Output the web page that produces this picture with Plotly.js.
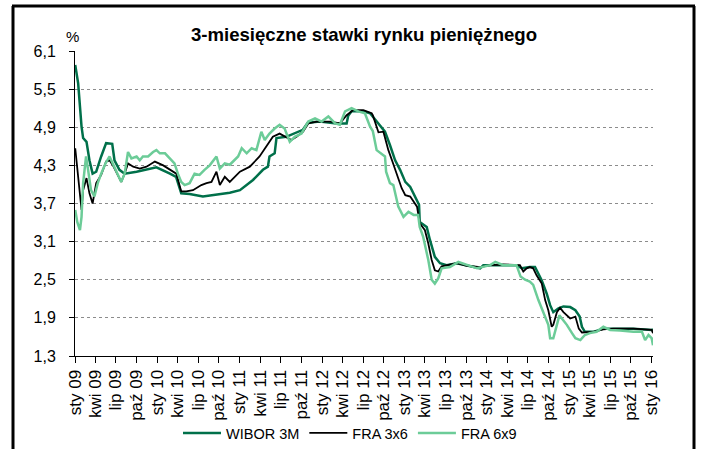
<!DOCTYPE html>
<html>
<head>
<meta charset="utf-8">
<script src="https://cdn.plot.ly/plotly-3.0.1.min.js"></script>
<style>
html,body{margin:0;padding:0;background:#fff;}
#chart{width:702px;height:449px;}
</style>
</head>
<body>
<div id="chart"></div>
<script>
// ---- DATA ----
const tickDates = ['2009-01-01','2009-04-01','2009-07-01','2009-10-01','2010-01-01','2010-04-01','2010-07-01','2010-10-01',
  '2011-01-01','2011-04-01','2011-07-01','2011-10-01','2012-01-01','2012-04-01','2012-07-01','2012-10-01',
  '2013-01-01','2013-04-01','2013-07-01','2013-10-01','2014-01-01','2014-04-01','2014-07-01','2014-10-01',
  '2015-01-01','2015-04-01','2015-07-01','2015-10-01','2016-01-01'];
const tickLabels = ['sty 09','kwi 09','lip 09','paź 09','sty 10','kwi 10','lip 10','paź 10',
  'sty 11','kwi 11','lip 11','paź 11','sty 12','kwi 12','lip 12','paź 12',
  'sty 13','kwi 13','lip 13','paź 13','sty 14','kwi 14','lip 14','paź 14',
  'sty 15','kwi 15','lip 15','paź 15','sty 16'];
const yTicks = [1.3, 1.9, 2.5, 3.1, 3.7, 4.3, 4.9, 5.5, 6.1];

const wiborDates = ['2009-01-02','2009-01-15','2009-01-30','2009-02-06','2009-02-21','2009-03-06','2009-03-20','2009-04-05',
  '2009-04-27','2009-05-19','2009-06-15','2009-06-25','2009-07-17','2009-08-09','2009-10-01','2009-11-14','2009-12-28',
  '2010-02-26','2010-03-25','2010-04-17','2010-05-24','2010-07-22','2010-09-20','2010-11-18','2011-01-02','2011-03-01',
  '2011-04-14','2011-05-06','2011-05-13','2011-06-05','2011-06-13','2011-07-26','2011-10-08','2011-10-30','2011-12-22',
  '2012-03-05','2012-04-19','2012-04-26','2012-05-11','2012-07-02','2012-08-01','2012-08-30','2012-10-06','2012-10-28',
  '2012-11-20','2012-12-12','2013-01-04','2013-01-26','2013-02-17','2013-03-06','2013-03-09','2013-04-09','2013-04-23',
  '2013-05-15','2013-06-07','2013-07-06','2013-08-20','2013-10-04','2013-12-02','2013-12-16','2014-03-14','2014-05-12',
  '2014-06-04','2014-07-10','2014-08-02','2014-09-01','2014-09-23','2014-10-08','2014-10-22','2014-11-14','2014-12-06',
  '2015-01-05','2015-01-28','2015-02-16','2015-02-26','2015-03-11','2015-04-17','2015-06-01','2015-07-15','2015-10-12',
  '2016-01-01','2016-01-07'];
const wiborValues = [5.88,5.59,4.91,4.73,4.67,4.38,4.17,4.20,
  4.44,4.65,4.64,4.38,4.23,4.17,4.20,4.23,4.27,
  4.17,4.12,3.86,3.85,3.81,3.84,3.87,3.91,4.07,
  4.23,4.28,4.44,4.49,4.73,4.75,4.86,4.97,4.99,
  4.96,4.96,5.08,5.15,5.15,5.12,4.99,4.83,4.62,
  4.38,4.23,4.04,3.96,3.81,3.68,3.41,3.33,3.13,
  2.86,2.76,2.73,2.76,2.73,2.68,2.73,2.73,2.73,
  2.68,2.70,2.70,2.49,2.28,2.10,1.99,2.05,2.08,
  2.07,2.02,1.92,1.76,1.68,1.68,1.73,1.73,1.73,
  1.71,1.72];

const fra36Dates = ['2009-01-02','2009-01-15','2009-01-30','2009-02-06','2009-02-21','2009-03-06','2009-03-20','2009-04-05',
  '2009-04-27','2009-05-19','2009-06-03','2009-06-18','2009-07-10','2009-07-25','2009-08-09','2009-08-24','2009-09-16',
  '2009-10-15','2009-11-14','2009-12-21','2010-01-27','2010-03-11','2010-03-26','2010-04-17','2010-05-09','2010-06-08',
  '2010-07-15','2010-08-07','2010-08-29','2010-09-20','2010-10-05','2010-10-27','2010-11-18','2011-01-02','2011-02-15',
  '2011-03-30','2011-04-29','2011-05-28','2011-06-27','2011-07-26','2011-08-18','2011-09-10','2011-10-09','2011-11-01',
  '2011-12-08','2012-02-06','2012-03-20','2012-04-19','2012-05-18','2012-07-02','2012-08-08','2012-08-13','2012-09-07',
  '2012-09-29','2012-10-21','2012-11-06','2012-11-28','2012-12-19','2013-01-04','2013-01-26','2013-02-25','2013-03-09',
  '2013-04-01','2013-04-16','2013-05-01','2013-05-15','2013-05-30','2013-06-14','2013-08-20','2013-10-04','2013-12-02',
  '2014-01-15','2014-03-14','2014-05-12','2014-05-27','2014-06-11','2014-06-26','2014-07-10','2014-07-25','2014-08-09',
  '2014-09-01','2014-09-16','2014-09-30','2014-10-15','2014-10-22','2014-11-07','2014-11-21','2014-12-06','2014-12-21',
  '2015-01-05','2015-01-28','2015-02-12','2015-02-26','2015-04-17','2015-06-01','2015-07-15','2015-10-12','2015-12-03',
  '2016-01-01','2016-01-07'];
const fra36Values = [4.57,4.12,3.60,3.91,4.10,3.86,3.70,4.02,
  4.15,4.36,4.38,4.30,4.15,4.04,4.17,4.33,4.28,
  4.25,4.28,4.36,4.30,4.20,4.17,3.89,3.89,3.91,
  3.99,4.02,4.04,4.20,3.99,4.12,4.04,4.20,4.28,
  4.44,4.59,4.75,4.80,4.75,4.70,4.75,4.83,4.96,
  4.99,4.99,4.96,5.09,5.17,5.17,5.12,5.09,4.82,
  4.83,4.54,4.38,4.17,3.94,3.83,3.81,3.65,3.39,
  3.28,3.07,2.81,2.65,2.63,2.71,2.76,2.72,2.70,
  2.73,2.74,2.73,2.73,2.63,2.68,2.70,2.68,2.57,
  2.44,2.18,2.02,1.76,1.79,1.99,2.06,1.99,1.94,
  1.89,1.92,1.73,1.67,1.68,1.72,1.73,1.73,1.72,
  1.71,1.66];

const fra69Dates = ['2009-01-02','2009-01-11','2009-01-23','2009-01-30','2009-02-06','2009-02-19','2009-02-28','2009-03-13',
  '2009-03-28','2009-04-12','2009-04-27','2009-05-16','2009-06-03','2009-06-18','2009-07-10','2009-07-25','2009-08-09',
  '2009-08-24','2009-09-08','2009-10-01','2009-10-15','2009-10-29','2009-11-21','2009-12-13','2009-12-28','2010-01-12',
  '2010-02-04','2010-02-26','2010-03-18','2010-04-02','2010-04-17','2010-05-02','2010-05-24','2010-06-15','2010-07-07',
  '2010-07-29','2010-08-21','2010-09-20','2010-10-05','2010-10-27','2010-11-18','2010-12-25','2011-01-10','2011-02-01',
  '2011-02-23','2011-03-16','2011-04-07','2011-04-22','2011-05-13','2011-06-05','2011-06-27','2011-07-19','2011-08-11',
  '2011-09-02','2011-10-02','2011-11-01','2011-12-01','2011-12-30','2012-01-29','2012-02-28','2012-03-20','2012-04-12',
  '2012-05-11','2012-06-10','2012-07-09','2012-08-01','2012-08-13','2012-08-30','2012-09-22','2012-10-06','2012-10-11',
  '2012-10-28','2012-11-12','2012-12-04','2012-12-27','2013-01-18','2013-02-10','2013-03-02','2013-03-09','2013-03-24',
  '2013-04-16','2013-05-01','2013-05-15','2013-05-30','2013-06-14','2013-07-21','2013-08-27','2013-10-04','2013-11-18',
  '2014-01-15','2014-02-07','2014-03-14','2014-05-12','2014-05-30','2014-06-19','2014-07-10','2014-07-25','2014-08-17',
  '2014-09-08','2014-09-30','2014-10-08','2014-10-22','2014-11-07','2014-11-18','2014-12-06','2014-12-21','2015-01-13',
  '2015-01-28','2015-02-19','2015-03-11','2015-04-02','2015-05-02','2015-06-01','2015-07-01','2015-08-14','2015-10-12',
  '2015-11-19','2015-12-03','2015-12-18','2016-01-01','2016-01-07'];
const fra69Values = [3.60,3.41,3.28,3.49,4.02,4.44,4.23,3.91,
  3.81,4.02,4.17,4.33,4.44,4.33,4.17,4.04,4.17,
  4.51,4.41,4.44,4.38,4.44,4.44,4.51,4.54,4.49,
  4.49,4.41,4.33,4.17,4.04,3.99,4.02,4.17,4.15,
  4.23,4.30,4.44,4.25,4.33,4.31,4.44,4.57,4.49,
  4.57,4.54,4.83,4.70,4.80,4.88,4.94,4.88,4.67,
  4.75,4.80,4.99,5.04,4.99,5.07,4.96,4.94,5.15,
  5.20,5.15,5.12,4.91,4.84,4.54,4.48,4.44,4.20,
  4.02,3.99,3.65,3.49,3.57,3.52,3.52,3.33,3.18,
  2.81,2.50,2.44,2.52,2.68,2.70,2.78,2.73,2.68,
  2.73,2.78,2.73,2.73,2.55,2.50,2.47,2.42,2.18,
  1.99,1.79,1.58,1.58,1.79,1.94,1.86,1.79,1.66,
  1.58,1.55,1.63,1.66,1.68,1.76,1.71,1.70,1.68,
  1.68,1.55,1.63,1.58,1.47];

// ---- CHART ----
const W = 702, H = 449;
const plotL = 75, plotR = 653, plotT = 51, plotB = 356;
const pw = plotR - plotL, ph = plotB - plotT;
const px2x = p => (p - plotL) / pw;
const py2y = p => (plotB - p) / ph;

const traces = [
  {x: wiborDates, y: wiborValues, name: 'WIBOR 3M', type: 'scatter', mode: 'lines',
   line: {color: '#00704a', width: 2.5}},
  {x: fra36Dates, y: fra36Values, name: 'FRA 3x6', type: 'scatter', mode: 'lines',
   line: {color: '#000000', width: 1.8}},
  {x: fra69Dates, y: fra69Values, name: 'FRA 6x9', type: 'scatter', mode: 'lines',
   line: {color: '#6ccc98', width: 2.5}}
];

const border = {color: '#000', width: 3};
const layout = {
  width: W, height: H,
  margin: {l: plotL, r: W - plotR, t: plotT, b: H - plotB, pad: 0, autoexpand: false},
  paper_bgcolor: '#ffffff', plot_bgcolor: '#ffffff',
  separators: ', ',
  font: {family: 'Arial, "Liberation Sans", sans-serif', color: '#000000'},
  title: {text: '<b>3-miesięczne stawki rynku pieniężnego</b>', font: {size: 18.6, color: '#000'},
          xref: 'paper', x: 0.5, xanchor: 'center', yref: 'container', y: 1 - 34 / H, yanchor: 'middle'},
  showlegend: true,
  legend: {orientation: 'h', x: px2x(178), xanchor: 'left', y: py2y(433), yanchor: 'middle',
           font: {size: 14.5, color: '#000'}, bgcolor: 'rgba(0,0,0,0)', itemwidth: 38, traceorder: 'normal'},
  xaxis: {type: 'date', range: ['2009-01-01', '2016-01-07'], tickmode: 'array', tickvals: tickDates, ticktext: tickLabels,
          tickangle: -90, tickfont: {size: 17}, ticks: 'outside', ticklen: 6, tickcolor: '#000', tickwidth: 1,
          showline: true, linecolor: '#000', linewidth: 1, showgrid: false, zeroline: false, fixedrange: true, automargin: false},
  yaxis: {range: [1.3, 6.1], tickmode: 'array', tickvals: yTicks, ticktext: yTicks.map(v => v.toFixed(1).replace('.', ',')),
          tickfont: {size: 16}, ticks: 'outside', ticklen: 5, tickcolor: '#000', ticklabelstandoff: 10,
          showline: true, linecolor: '#000', linewidth: 1, showgrid: true, gridcolor: '#8c8c8c', griddash: 'dot', gridwidth: 1,
          zeroline: false, fixedrange: true, automargin: false},
  annotations: [
    {text: '%', xref: 'paper', yref: 'paper', x: px2x(72), y: py2y(37), xanchor: 'center', yanchor: 'middle',
     showarrow: false, font: {size: 15, color: '#000'}}
  ],
  shapes: [
    {type: 'line', xref: 'paper', yref: 'paper', x0: px2x(13), x1: px2x(13), y0: py2y(470), y1: py2y(6), line: border},
    {type: 'line', xref: 'paper', yref: 'paper', x0: px2x(12), x1: px2x(695), y0: py2y(6), y1: py2y(6), line: border},
    {type: 'line', xref: 'paper', yref: 'paper', x0: px2x(694), x1: px2x(694), y0: py2y(470), y1: py2y(6), line: border}
  ]
};

Plotly.newPlot('chart', traces, layout, {staticPlot: true, displayModeBar: false});
</script>
</body>
</html>
